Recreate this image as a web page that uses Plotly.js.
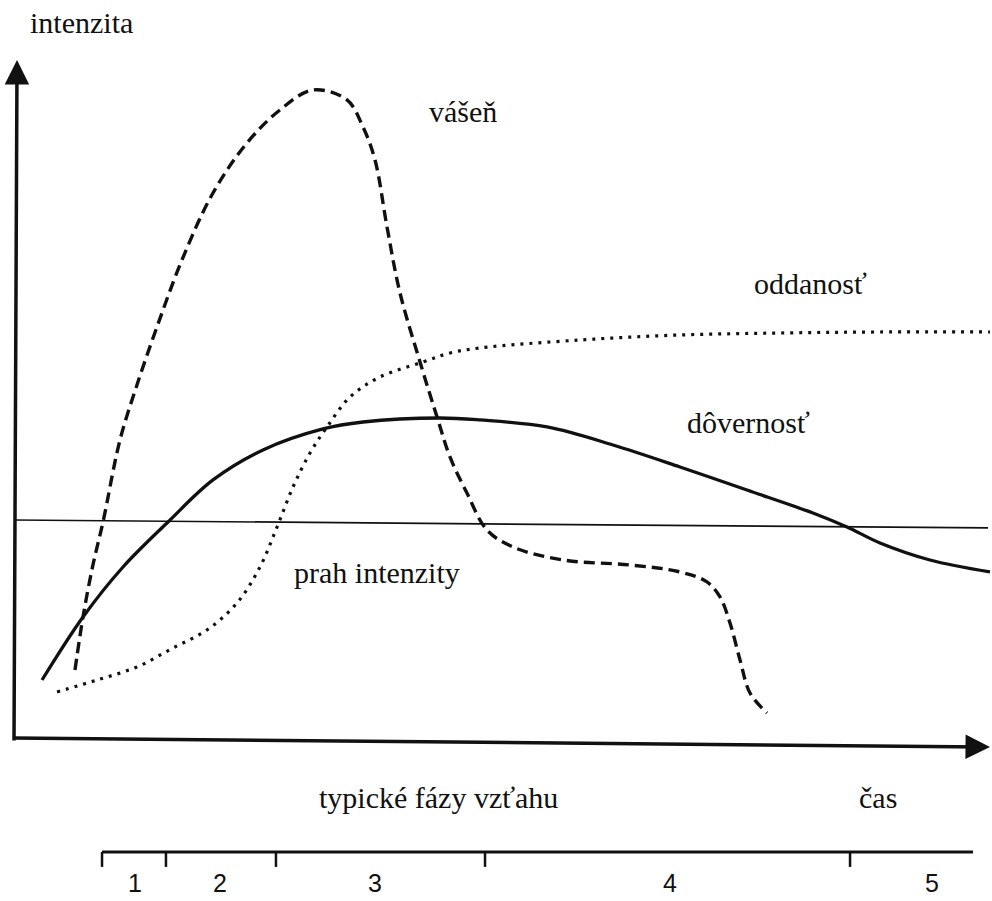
<!DOCTYPE html>
<html>
<head>
<meta charset="utf-8">
<script src="https://cdn.plot.ly/plotly-3.0.1.min.js"></script>
<style>
  html, body { margin: 0; padding: 0; background: #ffffff; }
  #chart { width: 992px; height: 901px; }
</style>
</head>
<body>
<div id="chart"></div>
<script>
// ---- data (x: time 0-100, y: intensity 0-100) ----
const vasenX = [6.25, 7.07, 8.09, 9.12, 10.86, 12.60, 14.65, 17.21, 20.39, 23.87, 27.25, 30.64, 34.12, 35.76, 36.99, 38.22, 39.55, 41.60, 43.44, 44.67, 46.41, 48.46, 51.13, 56.25, 63.11, 68.24, 71.00, 72.34, 73.36, 74.39, 75.41, 77.15];
const vasenY = [10.29, 18.09, 25.74, 32.06, 44.12, 52.21, 60.74, 70.59, 80.44, 87.79, 92.65, 95.59, 94.12, 90.15, 85.29, 75.44, 65.74, 55.59, 47.06, 41.62, 36.32, 30.88, 28.38, 26.47, 25.74, 24.71, 23.24, 21.03, 17.21, 11.76, 6.91, 3.97];

const oddanostX = [4.41, 8.50, 12.60, 16.29, 19.77, 22.85, 25.20, 26.95, 28.59, 30.33, 32.07, 34.43, 37.50, 41.91, 44.67, 47.75, 57.99, 68.24, 78.48, 88.73, 100.0];
const oddanostY = [7.06, 8.82, 10.74, 13.53, 16.18, 20.15, 25.44, 31.32, 37.21, 42.21, 46.03, 50.44, 53.38, 55.59, 56.91, 57.65, 58.82, 59.56, 59.85, 60.00, 60.00];

const dovernostX = [2.87, 7.07, 11.17, 15.78, 20.39, 25.51, 31.66, 35.76, 43.65, 47.75, 54.61, 61.37, 68.24, 75.10, 81.86, 85.35, 88.73, 93.85, 100.0];
const dovernostY = [8.82, 18.09, 25.44, 32.06, 38.24, 42.65, 45.74, 46.76, 47.35, 47.06, 46.03, 43.38, 40.15, 36.76, 33.38, 31.32, 28.97, 26.47, 24.71];

const prahX = [0, 99.8];
const prahY = [32.35, 31.18];

const phaseBounds = [9.02, 15.57, 26.84, 48.26, 85.66];
const phaseEnd = 98.26;
const phaseLabels = ['1', '2', '3', '4', '5'];
const phaseLabelX = [12.40, 21.11, 36.99, 67.21, 94.06];

const seriesNames = ['vášeň', 'oddanosť', 'dôvernosť', 'prah intenzity'];

// ---- layout constants ----
const W = 992, H = 901;
const SERIF = 'Liberation Serif';
const SANS = 'Liberation Sans';
const PHASE_Y = -16.47, TICK_LEN = 2.2, LABEL_Y = -21.47;
const px = v => v / W;
const py = v => 1 - v / H;

// phase scale geometry built from the boundaries
const phLineX = [phaseBounds[0], phaseEnd];
const phLineY = [PHASE_Y, PHASE_Y];
const tickX = [], tickY = [];
phaseBounds.forEach(b => { tickX.push(b, b, null); tickY.push(PHASE_Y, PHASE_Y - TICK_LEN, null); });

const traces = [
  { x: vasenX, y: vasenY, name: seriesNames[0], mode: 'lines',
    line: { color: '#111', width: 3.4, dash: '11px,6px', shape: 'spline', smoothing: 1 } },
  { x: oddanostX, y: oddanostY, name: seriesNames[1], mode: 'lines',
    line: { color: '#111', width: 3.2, dash: '3px,6px', shape: 'spline', smoothing: 1 } },
  { x: dovernostX, y: dovernostY, name: seriesNames[2], mode: 'lines',
    line: { color: '#111', width: 3.3, shape: 'spline', smoothing: 1 } },
  { x: prahX, y: prahY, name: seriesNames[3], mode: 'lines',
    line: { color: '#111', width: 1.7 } },
  { x: phLineX, y: phLineY, mode: 'lines', line: { color: '#111', width: 3 } },
  { x: tickX, y: tickY, mode: 'lines', line: { color: '#111', width: 2.5 } },
  { x: phaseLabelX, y: phaseLabelX.map(() => LABEL_Y), mode: 'text', text: phaseLabels,
    textposition: 'middle center', textfont: { family: SANS, size: 25, color: '#111' } }
];

const txt = (text, x, y) => ({
  text: text, xref: 'paper', yref: 'paper', x: px(x), y: py(y),
  xanchor: 'left', yanchor: 'middle', showarrow: false,
  font: { family: SERIF, size: 30, color: '#111' }
});

const layout = {
  width: W, height: H,
  margin: { l: 0, r: 0, t: 0, b: 0 },
  paper_bgcolor: '#ffffff', plot_bgcolor: '#ffffff',
  showlegend: false,
  font: { family: SERIF, color: '#111' },
  xaxis: { range: [-1.434, 100.205], visible: false, fixedrange: true },
  yaxis: { range: [-23.68, 108.82], visible: false, fixedrange: true },
  annotations: [
    txt('intenzita', 28, 23),
    txt(seriesNames[0], 427, 112),
    txt(seriesNames[1], 752, 283),
    txt(seriesNames[2], 685, 422),
    txt(seriesNames[3], 292, 572),
    txt('typické fázy vzťahu', 317, 797),
    txt('čas', 857, 797),
    // y axis arrow
    { text: '', xref: 'x', yref: 'y', axref: 'x', ayref: 'y',
      x: 0.31, y: 100, ax: 0, ay: -0.3, showarrow: true,
      arrowhead: 2, arrowsize: 1.4, arrowwidth: 3.5, arrowcolor: '#111' },
    // x axis arrow
    { text: '', xref: 'x', yref: 'y', axref: 'x', ayref: 'y',
      x: 100, y: -1.03, ax: -0.25, ay: 0.29, showarrow: true,
      arrowhead: 2, arrowsize: 1.4, arrowwidth: 3.5, arrowcolor: '#111' }
  ]
};

Plotly.newPlot('chart', traces, layout, { staticPlot: true, displayModeBar: false });
</script>
</body>
</html>
